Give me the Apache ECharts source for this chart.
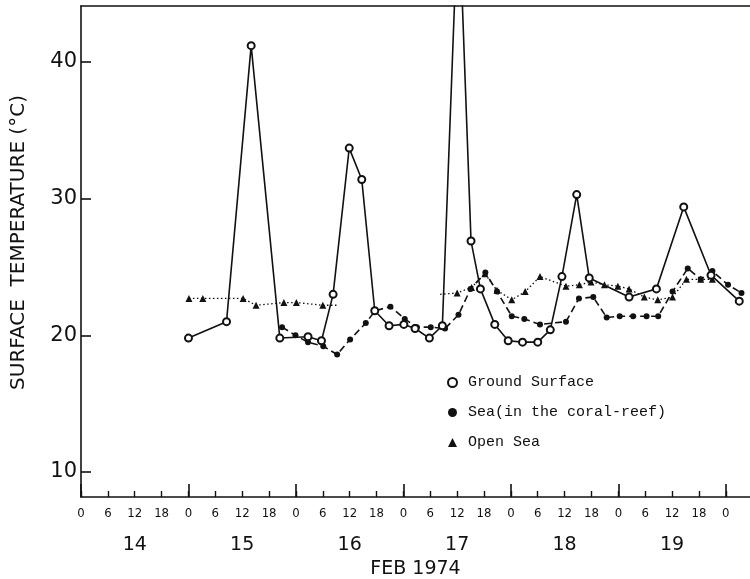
<!DOCTYPE html>
<html>
<head>
<meta charset="utf-8">
<script src="https://cdn.jsdelivr.net/npm/echarts@6/dist/echarts.min.js"></script>
<style>html,body{margin:0;padding:0;background:#fff;}#c{width:750px;height:579px;}</style>
</head>
<body>
<div id="c"></div>
<script>
// Hours counted from 14 Feb 1974, 00h
const groundHours = [24, 32.5, 38.0, 44.4, 50.7, 53.7, 56.3, 59.9, 62.7, 65.6, 68.8, 72.1, 74.6, 77.8, 80.7, 84.3, 87.1, 89.2, 92.4, 95.4, 98.6, 102.0, 104.8, 107.4, 110.7, 113.5, 122.4, 128.5, 134.6, 140.7, 147.0];
const groundTemps = [19.8, 21.0, 41.2, 19.8, 19.9, 19.6, 23.0, 33.7, 31.4, 21.8, 20.7, 20.8, 20.5, 19.8, 20.7, 52.0, 26.9, 23.4, 20.8, 19.6, 19.5, 19.5, 20.4, 24.3, 30.3, 24.2, 22.8, 23.4, 29.4, 24.4, 22.5];

const seaHours = [44.9, 47.9, 50.7, 54.1, 57.2, 60.1, 63.6, 65.7, 69.1, 72.3, 75.0, 78.1, 81.3, 84.3, 87.0, 90.3, 92.9, 96.2, 99.0, 102.5, 108.3, 111.2, 114.4, 117.4, 120.3, 123.3, 126.3, 128.9, 132.1, 135.5, 138.4, 141.0, 144.5, 147.5];
const seaTemps = [20.6, 20.0, 19.5, 19.2, 18.6, 19.7, 20.9, 21.8, 22.1, 21.2, 20.6, 20.6, 20.5, 21.5, 23.4, 24.6, 23.2, 21.4, 21.2, 20.8, 21.0, 22.7, 22.8, 21.3, 21.4, 21.4, 21.4, 21.4, 23.2, 24.9, 24.1, 24.7, 23.7, 23.1];

const openSeaHoursA = [24.1, 27.2, 36.2, 39.1, 45.3, 48.1, 54.0, 57.4];
const openSeaTempsA = [22.7, 22.7, 22.7, 22.2, 22.4, 22.4, 22.2, 22.2];
const openSeaMarkA  = [1, 1, 1, 1, 1, 1, 1, 0];
const openSeaHoursB = [80.2, 84.0, 87.2, 90.2, 92.9, 96.2, 99.2, 102.5, 108.3, 111.3, 113.9, 116.9, 119.9, 122.4, 125.8, 128.8, 132.1, 135.2, 138.4, 141.0];
const openSeaTempsB = [23.0, 23.1, 23.5, 24.5, 23.3, 22.6, 23.2, 24.3, 23.6, 23.7, 23.9, 23.7, 23.6, 23.4, 22.8, 22.6, 22.8, 24.1, 24.1, 24.1];
const openSeaMarkB  = [0, 1, 1, 1, 1, 1, 1, 1, 1, 1, 1, 1, 1, 1, 1, 1, 1, 1, 1, 1];

const hourTicks = [0,6,12,18,24,30,36,42,48,54,60,66,72,78,84,90,96,102,108,114,120,126,132,138,144];
const dayTicks = [0,24,48,72,96,120,144];
const dayLabelPos = [12,36,60,84,108,132];
const dayLabels = ['14','15','16','17','18','19'];
const yTicks = [10,20,30,40];

const series = (name, xs, ys, marks) => xs.map((x,i) => {
  const it = {value:[x, ys[i]]};
  if (marks && !marks[i]) it.symbol = 'none';
  return it;
});

const chart = echarts.init(document.getElementById('c'));
const axisLineStyle = {color:'#111', width:1.6};
chart.setOption({
  animation:false,
  backgroundColor:'#fff',
  grid:{left:81, top:6, right:0, bottom:82, containLabel:false, outerBoundsMode:'none'},
  xAxis:[
    {type:'value', min:0, max:149.4, position:'bottom',
     axisLine:{show:true, lineStyle:axisLineStyle, onZero:false},
     axisTick:{show:true, inside:true, length:6, lineStyle:{color:'#111', width:1.4}, customValues:hourTicks},
     axisLabel:{show:true, customValues:hourTicks, margin:10, fontFamily:'DejaVu Sans Condensed', fontSize:13, color:'#111',
                formatter:v => String(Math.round(v) % 24), showMinLabel:true, showMaxLabel:true},
     splitLine:{show:false}},
    {type:'value', min:0, max:149.4, position:'bottom',
     axisLine:{show:false, onZero:false},
     axisTick:{show:true, inside:true, length:13, lineStyle:{color:'#111', width:1.6}, customValues:dayTicks},
     axisLabel:{show:false}, splitLine:{show:false}},
    {type:'value', min:0, max:149.4, position:'bottom', offset:35,
     axisLine:{show:false, onZero:false}, axisTick:{show:false},
     axisLabel:{show:true, customValues:dayLabelPos, margin:4, fontFamily:'DejaVu Sans', fontSize:19, color:'#111',
                formatter:v => dayLabels[Math.round((v-12)/24)] || ''},
     name:'FEB 1974', nameLocation:'middle', nameGap:26,
     nameTextStyle:{fontFamily:'DejaVu Sans', fontSize:19, color:'#111'},
     splitLine:{show:false}},
    {type:'value', min:0, max:149.4, position:'top',
     axisLine:{show:true, lineStyle:axisLineStyle, onZero:false}, axisTick:{show:false}, axisLabel:{show:false}, splitLine:{show:false}}
  ],
  yAxis:{type:'value', min:8.17, max:44.1,
     axisLine:{show:true, lineStyle:axisLineStyle, onZero:false},
     axisTick:{show:true, inside:true, length:10, lineStyle:{color:'#111', width:1.6}, customValues:yTicks},
     axisLabel:{show:true, customValues:yTicks, margin:4, fontFamily:'DejaVu Sans', fontSize:21, color:'#111'},
     splitLine:{show:false},
     name:'SURFACE  TEMPERATURE (°C)', nameLocation:'middle', nameGap:52,
     nameTextStyle:{fontFamily:'DejaVu Sans', fontSize:20, color:'#111', padding:[0,0,0,18]}},
  legend:{orient:'vertical', left:442, top:370, itemWidth:9, itemHeight:9, itemGap:15,
     textStyle:{fontFamily:'Liberation Mono', fontSize:15, color:'#111', padding:[0,0,0,6]},
     data:[{name:'Ground Surface', icon:'emptyCircle'}, {name:'Sea(in the coral\u2010reef)', icon:'circle'}, {name:'Open Sea', icon:'triangle'}]},
  series:[
    {name:'Ground Surface', type:'line', xAxisIndex:0, clip:true, data:series('g', groundHours, groundTemps),
     symbol:'emptyCircle', symbolSize:7, itemStyle:{color:'#111', borderColor:'#111', borderWidth:1.5},
     lineStyle:{color:'#111', width:1.6, type:'solid'}, z:3},
    {name:'Sea(in the coral\u2010reef)', type:'line', xAxisIndex:0, clip:true, data:series('s', seaHours, seaTemps),
     symbol:'circle', symbolSize:6, itemStyle:{color:'#111'},
     lineStyle:{color:'#111', width:1.6, type:[7,4]}, z:2},
    {name:'Open Sea', type:'line', xAxisIndex:0, clip:true, data:series('o', openSeaHoursA, openSeaTempsA, openSeaMarkA),
     symbol:'triangle', symbolSize:7, itemStyle:{color:'#111'},
     lineStyle:{color:'#111', width:1.3, type:[1.5,2.5]}, z:1},
    {name:'Open Sea', type:'line', xAxisIndex:0, clip:true, data:series('o', openSeaHoursB, openSeaTempsB, openSeaMarkB),
     symbol:'triangle', symbolSize:7, itemStyle:{color:'#111'},
     lineStyle:{color:'#111', width:1.3, type:[1.5,2.5]}, z:1}
  ]
});
</script>
</body>
</html>
